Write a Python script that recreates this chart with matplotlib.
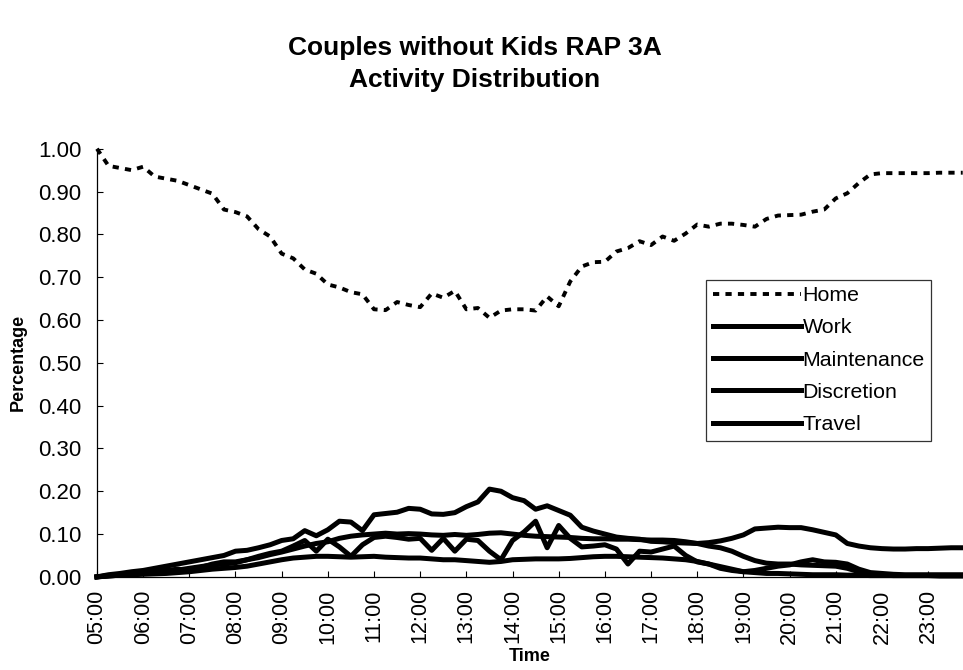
import numpy as np
import matplotlib.pyplot as plt

plt.rcParams['font.family'] = ['Liberation Sans', 'DejaVu Sans']

# 15-minute samples, 05:00 .. 23:45
hours = np.arange(5, 24, 0.25)

home = [1.000, 0.960, 0.955, 0.950,
        0.958, 0.935, 0.930, 0.925,
        0.915, 0.905, 0.895, 0.858,
        0.852, 0.842, 0.812, 0.795,
        0.755, 0.744, 0.718, 0.708,
        0.683, 0.676, 0.665, 0.660,
        0.625, 0.623, 0.642, 0.635,
        0.630, 0.662, 0.652, 0.668,
        0.625, 0.628, 0.605, 0.622,
        0.625, 0.625, 0.622, 0.655,
        0.632, 0.690, 0.725, 0.735,
        0.736, 0.760, 0.768, 0.784,
        0.775, 0.795, 0.785, 0.802,
        0.823, 0.818, 0.825, 0.825,
        0.822, 0.818, 0.836, 0.844,
        0.845, 0.846, 0.853, 0.858,
        0.884, 0.896, 0.920, 0.940,
        0.943, 0.943, 0.943, 0.943,
        0.943, 0.944, 0.944, 0.944]

work = [0.000, 0.002, 0.004, 0.006,
        0.008, 0.010, 0.013, 0.016,
        0.020, 0.024, 0.028, 0.030,
        0.033, 0.040, 0.045, 0.052,
        0.058, 0.065, 0.072, 0.078,
        0.082, 0.090, 0.095, 0.098,
        0.100, 0.102, 0.100, 0.101,
        0.100, 0.098, 0.097, 0.099,
        0.097, 0.099, 0.102, 0.103,
        0.100, 0.097, 0.095, 0.094,
        0.093, 0.092, 0.090, 0.089,
        0.089, 0.088, 0.088, 0.087,
        0.086, 0.086, 0.085, 0.082,
        0.078, 0.072, 0.068, 0.060,
        0.048, 0.038, 0.032, 0.030,
        0.030, 0.028, 0.027, 0.026,
        0.025, 0.020, 0.012, 0.006,
        0.004, 0.003, 0.003, 0.003,
        0.003, 0.002, 0.002, 0.002]

maintenance = [0.000, 0.003, 0.006, 0.008,
               0.010, 0.012, 0.015, 0.018,
               0.015, 0.022, 0.030, 0.035,
               0.035, 0.040, 0.048, 0.055,
               0.060, 0.072, 0.085, 0.060,
               0.088, 0.070, 0.048, 0.075,
               0.092, 0.095, 0.092, 0.088,
               0.090, 0.062, 0.090, 0.060,
               0.088, 0.085, 0.060, 0.040,
               0.085, 0.105, 0.130, 0.068,
               0.120, 0.090, 0.070, 0.072,
               0.075, 0.065, 0.030, 0.060,
               0.058, 0.065, 0.072, 0.050,
               0.035, 0.030, 0.020, 0.015,
               0.012, 0.015, 0.020, 0.025,
               0.028, 0.035, 0.040, 0.035,
               0.034, 0.030, 0.018, 0.010,
               0.008, 0.006, 0.005, 0.005,
               0.005, 0.005, 0.005, 0.005]

discretion = [0.000, 0.005, 0.008, 0.012,
              0.015, 0.020, 0.025, 0.030,
              0.035, 0.040, 0.045, 0.050,
              0.060, 0.062, 0.068, 0.075,
              0.085, 0.089, 0.108, 0.096,
              0.110, 0.130, 0.128, 0.108,
              0.145, 0.148, 0.151, 0.160,
              0.158, 0.147, 0.146, 0.150,
              0.164, 0.175, 0.205, 0.200,
              0.185, 0.178, 0.158, 0.166,
              0.155, 0.144, 0.116, 0.107,
              0.100, 0.093, 0.090, 0.088,
              0.083, 0.082, 0.080, 0.079,
              0.078, 0.080, 0.084, 0.090,
              0.098, 0.112, 0.114, 0.116,
              0.115, 0.115, 0.110, 0.104,
              0.098, 0.078, 0.072, 0.068,
              0.066, 0.065, 0.065, 0.066,
              0.066, 0.067, 0.068, 0.068]

travel = [0.000, 0.002, 0.004, 0.005,
          0.006, 0.007, 0.008, 0.010,
          0.012, 0.015, 0.018, 0.020,
          0.022, 0.025, 0.030, 0.035,
          0.040, 0.044, 0.046, 0.048,
          0.048, 0.047, 0.046, 0.047,
          0.048, 0.046, 0.045, 0.044,
          0.044, 0.042, 0.040, 0.040,
          0.038, 0.036, 0.034, 0.036,
          0.040, 0.041, 0.042, 0.042,
          0.042, 0.043, 0.045, 0.047,
          0.048, 0.048, 0.047, 0.046,
          0.045, 0.044, 0.042, 0.040,
          0.036, 0.030, 0.024, 0.018,
          0.012, 0.010, 0.008, 0.008,
          0.007, 0.006, 0.005, 0.005,
          0.005, 0.004, 0.004, 0.003,
          0.003, 0.003, 0.003, 0.003,
          0.003, 0.003, 0.003, 0.003]

tick_hours = list(range(5, 24))
tick_labels = ['%02d:00' % h for h in tick_hours]
y_ticks = [i / 10 for i in range(11)]

fig = plt.figure(figsize=(9.63, 6.70), dpi=100)
ax = fig.add_axes([0.1007, 0.139, 0.899, 0.639])

ax.plot(hours, home, color='black', lw=2.8, linestyle=(0, (1.6, 1.6)),
        label='Home', clip_on=False)
solid = [(work, 'Work'), (maintenance, 'Maintenance'),
         (discretion, 'Discretion'), (travel, 'Travel')]
for vals, name in solid:
    ax.plot(hours, vals, color='black', lw=3.6, label=name,
            solid_joinstyle='round', clip_on=False)

ax.set_xlim(5, 23.75)
ax.set_ylim(0, 1.0)
ax.set_xticks(tick_hours)
ax.set_xticklabels(tick_labels, rotation=90, fontsize=15.5)
ax.set_yticks(y_ticks)
ax.set_yticklabels(['%.2f' % v for v in y_ticks], fontsize=16)
ax.tick_params(direction='in', length=4, width=0.8)
ax.tick_params(axis='y', pad=11)
ax.tick_params(axis='x', pad=9)

for s in ['top', 'right']:
    ax.spines[s].set_visible(False)
for s in ['left', 'bottom']:
    ax.spines[s].set_linewidth(0.9)

ax.set_ylabel('Percentage', fontsize=13, fontweight='bold', labelpad=8)
ax.set_xlabel('Time', fontsize=13, fontweight='bold', labelpad=3)

leg = ax.legend(loc='upper left', bbox_to_anchor=(0.704, 0.694),
                fontsize=15.4, frameon=True, fancybox=False, edgecolor='black',
                handlelength=4.1, handletextpad=0.1, labelspacing=0.62,
                borderpad=0.3, borderaxespad=0)
leg.get_frame().set_linewidth(0.9)

fig.text(0.493, 0.928, 'Couples without Kids RAP 3A', ha='center', va='center',
         fontsize=19, fontweight='bold')
fig.text(0.493, 0.880, 'Activity Distribution', ha='center', va='center',
         fontsize=19, fontweight='bold')

fig.savefig('out.png', dpi=100)
